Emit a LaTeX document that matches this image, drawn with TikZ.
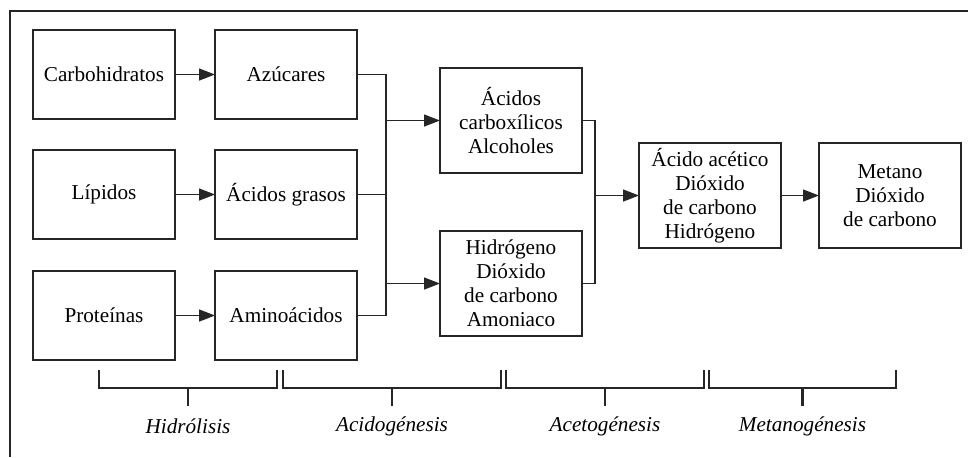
\documentclass[tikz,border=0pt]{standalone}
\usepackage{fontspec}
\setmainfont{Liberation Serif}
\usetikzlibrary{arrows.meta}
\begin{document}
\begin{tikzpicture}[x=0.5pt,y=-0.5pt,
  every node/.style={inner sep=0pt,outer sep=0pt},
  stagebox/.style={draw=black!85,line width=0.75pt,minimum width=71pt,
    align=center,font=\fontsize{10.6}{12}\selectfont},
  shortbox/.style={stagebox,minimum height=44.5pt},
  tallbox/.style={stagebox,minimum height=52.5pt},
  flow/.style={draw=black!85,line width=0.7pt},
  flowarrow/.style={flow,-{Triangle[length=8pt,width=6pt]}},
  phasebracket/.style={draw=black!85,line width=1.4pt},
  phaselabel/.style={font=\fontsize{10.6}{12}\selectfont\itshape}]
\useasboundingbox (0,0) rectangle (968,457);

% frame
\draw[line width=1.25pt,black!85] (10,457) -- (10,11) -- (968,11);

% hydrolysis inputs and products
\node[shortbox] (carb) at (104,74.5) {Carbohidratos};
\node[shortbox] (azu)  at (286,74.5) {Azúcares};
\node[shortbox] (lip)  at (104,194.5) {Lípidos};
\node[shortbox] (acg)  at (286,194.5) {Ácidos grasos};
\node[shortbox] (pro)  at (104,315.5) {Proteínas};
\node[shortbox] (ami)  at (286,315.5) {Aminoácidos};

% acidogenesis products
\node[tallbox] (acc) at (511,120.5) {Ácidos\\carboxílicos\\Alcoholes};
\node[tallbox] (hid) at (511,283.5) {Hidrógeno\\Dióxido\\de carbono\\Amoniaco};

% acetogenesis and methanogenesis
\node[tallbox] (ace) at (710,195.5) {Ácido acético\\Dióxido\\de carbono\\Hidrógeno};
\node[tallbox] (met) at (890,195.5) {Metano\\Dióxido\\de carbono};

% junction columns
\coordinate (j1) at (386,0);
\coordinate (j2) at (595,0);

\draw[flowarrow] (carb) -- (azu);
\draw[flowarrow] (lip) -- (acg);
\draw[flowarrow] (pro) -- (ami);

\draw[flow] (azu.east) -- (azu.east -| j1) -- (ami.east -| j1) -- (ami.east);
\draw[flow] (acg.east) -- (acg.east -| j1);
\draw[flowarrow] (acc.west -| j1) -- (acc.west);
\draw[flowarrow] (hid.west -| j1) -- (hid.west);

\draw[flow] (acc.east) -- (acc.east -| j2) -- (hid.east -| j2) -- (hid.east);
\draw[flowarrow] (ace.west -| j2) -- (ace.west);
\draw[flowarrow] (ace) -- (met);

% phase brackets
\foreach \a/\b/\txt in {99/277/Hidrólisis, 283/501/Acidogénesis,
                        506/704/Acetogénesis, 709/896/Metanogénesis}{
  \draw[phasebracket] (\a,370) -- (\a,388) -- (\b,388) -- (\b,370);
  \draw[phasebracket] ({(\a+\b)/2},388) -- ({(\a+\b)/2},406);
  \node[phaselabel] at ({(\a+\b)/2},426) {\txt};
}
\end{tikzpicture}
\end{document}
